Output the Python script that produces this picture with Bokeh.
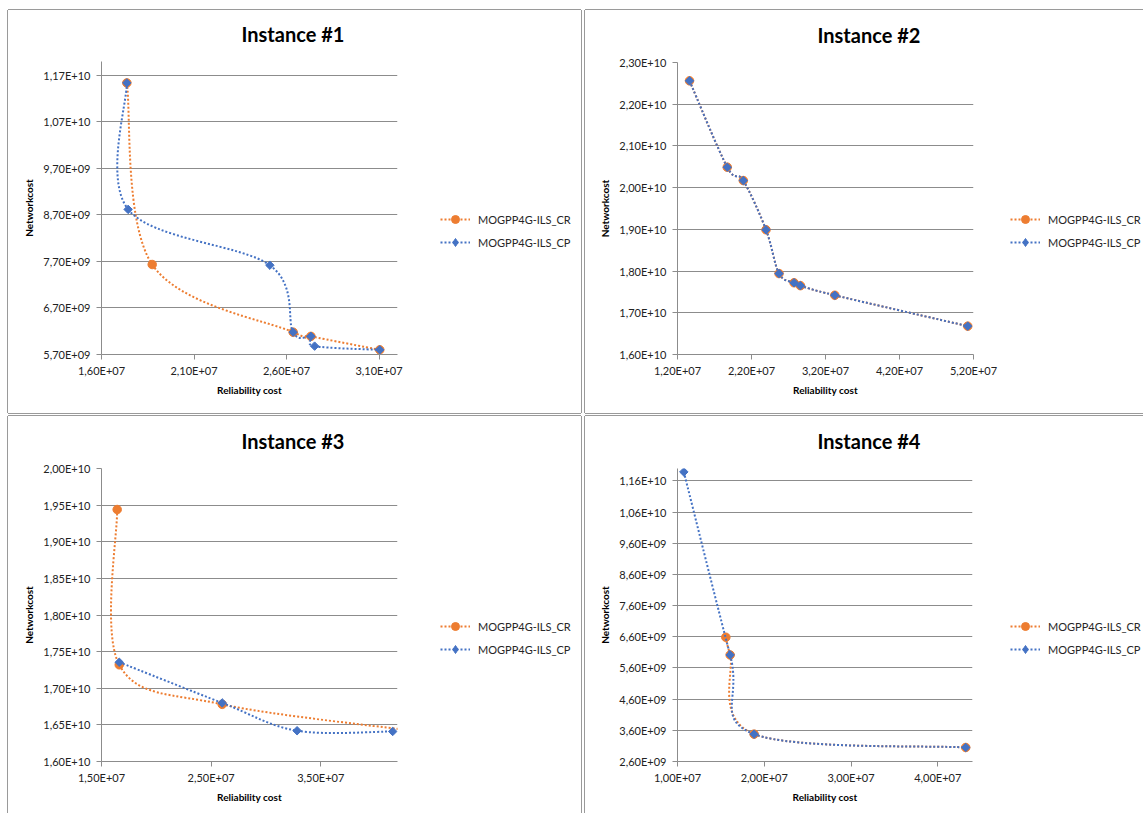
from bokeh.plotting import figure
from bokeh.models import (Range1d, FixedTicker, CustomJSTickFormatter, Legend,
                          LegendItem, Title, ColumnDataSource, Spacer)
from bokeh.layouts import column, row
from bokeh.embed import file_html
from bokeh.resources import INLINE

# ---------------- data ----------------
series_names = ["MOGPP4G-ILS_CR", "MOGPP4G-ILS_CP"]
titles = ["Instance #1", "Instance #2", "Instance #3", "Instance #4"]
x_title = "Reliability cost"
y_title = "Networkcost"

# Instance 1
i1_cr_x = [1.737e7, 1.874e7, 2.636e7, 2.732e7, 3.104e7]
i1_cr_y = [1.154e10, 7.635e9, 6.18e9, 6.09e9, 5.80e9]
i1_cp_x = [1.737e7, 1.744e7, 2.510e7, 2.636e7, 2.732e7, 2.752e7, 3.104e7]
i1_cp_y = [1.154e10, 8.82e9, 7.62e9, 6.18e9, 6.09e9, 5.88e9, 5.80e9]
i1_xticks = [1.6e7, 2.1e7, 2.6e7, 3.1e7]
i1_xlabels = ["1,60E+07", "2,10E+07", "2,60E+07", "3,10E+07"]
i1_yticks = [5.7e9, 6.7e9, 7.7e9, 8.7e9, 9.7e9, 1.07e10, 1.17e10]
i1_ylabels = ["5,70E+09", "6,70E+09", "7,70E+09", "8,70E+09", "9,70E+09", "1,07E+10", "1,17E+10"]
i1_xrange = (1.6e7, 3.2e7)
i1_yrange = (5.7e9, 1.2e10)

# Instance 2
i2_cr_x = [1.3625e7, 1.8725e7, 2.089e7, 2.396e7, 2.572e7, 2.775e7, 2.861e7, 3.326e7, 5.122e7]
i2_cr_y = [2.256e10, 2.049e10, 2.017e10, 1.899e10, 1.794e10, 1.772e10, 1.765e10, 1.742e10, 1.668e10]
i2_cp_x = [1.3625e7, 1.8725e7, 2.089e7, 2.396e7, 2.572e7, 2.775e7, 2.861e7, 3.326e7, 5.122e7]
i2_cp_y = [2.256e10, 2.049e10, 2.017e10, 1.899e10, 1.794e10, 1.772e10, 1.765e10, 1.742e10, 1.668e10]
i2_xticks = [1.2e7, 2.2e7, 3.2e7, 4.2e7, 5.2e7]
i2_xlabels = ["1,20E+07", "2,20E+07", "3,20E+07", "4,20E+07", "5,20E+07"]
i2_yticks = [1.6e10, 1.7e10, 1.8e10, 1.9e10, 2.0e10, 2.1e10, 2.2e10, 2.3e10]
i2_ylabels = ["1,60E+10", "1,70E+10", "1,80E+10", "1,90E+10", "2,00E+10", "2,10E+10", "2,20E+10", "2,30E+10"]
i2_xrange = (1.2e7, 5.2e7)
i2_yrange = (1.6e10, 2.3e10)

# Instance 3
i3_cr_x = [1.643e7, 1.662e7, 2.601e7, 4.45e7]
i3_cr_y = [1.944e10, 1.732e10, 1.678e10, 1.640e10]
i3_cp_x = [1.662e7, 2.601e7, 3.284e7, 4.156e7]
i3_cp_y = [1.7355e10, 1.680e10, 1.642e10, 1.641e10]
i3_xticks = [1.5e7, 2.5e7, 3.5e7]
i3_xlabels = ["1,50E+07", "2,50E+07", "3,50E+07"]
i3_yticks = [1.6e10, 1.65e10, 1.7e10, 1.75e10, 1.8e10, 1.85e10, 1.9e10, 1.95e10, 2.0e10]
i3_ylabels = ["1,60E+10", "1,65E+10", "1,70E+10", "1,75E+10", "1,80E+10", "1,85E+10", "1,90E+10", "1,95E+10", "2,00E+10"]
i3_xrange = (1.5e7, 4.2e7)
i3_yrange = (1.6e10, 2.0e10)

# Instance 4
i4_cr_x = [1.557e7, 1.607e7, 1.883e7, 4.322e7]
i4_cr_y = [6.586e9, 6.018e9, 3.478e9, 3.05e9]
i4_cp_x = [1.073e7, 1.607e7, 1.883e7, 4.322e7]
i4_cp_y = [1.189e10, 6.018e9, 3.478e9, 3.05e9]
i4_xticks = [1.0e7, 2.0e7, 3.0e7, 4.0e7]
i4_xlabels = ["1,00E+07", "2,00E+07", "3,00E+07", "4,00E+07"]
i4_yticks = [2.6e9, 3.6e9, 4.6e9, 5.6e9, 6.6e9, 7.6e9, 8.6e9, 9.6e9, 1.06e10, 1.16e10]
i4_ylabels = ["2,60E+09", "3,60E+09", "4,60E+09", "5,60E+09", "6,60E+09", "7,60E+09",
              "8,60E+09", "9,60E+09", "1,06E+10", "1,16E+10"]
i4_xrange = (1.0e7, 4.4e7)
i4_yrange = (2.6e9, 1.2e10)

# ---------------- style ----------------
ORANGE = "#ED7D31"
BLUE = "#4472C4"
GRID = "#8c8c8c"
BORDER = "#9a9a9a"
FONT = "Lato"

LABEL_JS = """
for (let i = 0; i < tvals.length; i++) {
  if (Math.abs(tvals[i] - tick) <= 1e-9 * Math.abs(tvals[i])) { return tlabels[i]; }
}
return "";
"""


def smooth_source(xs, ys):
    """Cubic Bezier segments through the data points (Excel-like smoothed line)."""
    n = len(xs)
    d = dict(x0=[], y0=[], x1=[], y1=[], cx0=[], cy0=[], cx1=[], cy1=[])
    for i in range(n - 1):
        im = i - 1 if i > 0 else i
        ip = i + 2 if i + 2 < n else i + 1
        d["x0"].append(xs[i]); d["y0"].append(ys[i])
        d["x1"].append(xs[i + 1]); d["y1"].append(ys[i + 1])
        d["cx0"].append(xs[i] + (xs[i + 1] - xs[im]) / 6.0)
        d["cy0"].append(ys[i] + (ys[i + 1] - ys[im]) / 6.0)
        d["cx1"].append(xs[i + 1] - (xs[ip] - xs[i]) / 6.0)
        d["cy1"].append(ys[i + 1] - (ys[ip] - ys[i]) / 6.0)
    return ColumnDataSource(d)


def add_series(p, cr_x, cr_y, cp_x, cp_y, visible=True):
    cr_line = p.bezier(x0="x0", y0="y0", x1="x1", y1="y1", cx0="cx0", cy0="cy0",
                       cx1="cx1", cy1="cy1", source=smooth_source(cr_x, cr_y),
                       line_color=ORANGE, line_width=2, line_dash="2 2", visible=visible)
    cr_pts = p.scatter(cr_x, cr_y, marker="circle", size=8.5, visible=visible,
                       fill_color=ORANGE, line_color=ORANGE, line_width=1)
    cp_line = p.bezier(x0="x0", y0="y0", x1="x1", y1="y1", cx0="cx0", cy0="cy0",
                       cx1="cx1", cy1="cy1", source=smooth_source(cp_x, cp_y),
                       line_color=BLUE, line_width=2, line_dash="2 2", visible=visible)
    if visible:
        cp_pts = p.scatter(cp_x, cp_y, marker="square", angle=0.785398, size=6,
                           fill_color=BLUE, line_color=BLUE, line_width=1)
    else:
        # legend swatch: legends draw markers unrotated, so use a diamond shape
        cp_pts = p.scatter(cp_x, cp_y, marker="diamond", size=10, visible=False,
                           fill_color=BLUE, line_color=BLUE, line_width=1)
    return cr_line, cr_pts, cp_line, cp_pts


def make_panel(title, cr_x, cr_y, cp_x, cp_y, xr, yr, xt, xl, yt, yl,
               width, height, mb, chart_w, legend_xy, shadow):
    p = figure(width=chart_w, height=height, output_backend="svg", toolbar_location=None,
               title=None, x_range=Range1d(*xr), y_range=Range1d(*yr),
               min_border_left=mb[0], min_border_right=chart_w - mb[0] - mb[1],
               min_border_top=mb[2], min_border_bottom=mb[3])
    # blank spacer title (a single space) keeps the real title clear of the plot area
    p.add_layout(Title(text=" ", text_font_size="1px", standoff=13, text_color="white"), "above")
    p.add_layout(Title(text=title, align="left", offset=140, vertical_align="bottom",
                       standoff=0, text_font=FONT, text_font_size="20px",
                       text_font_style="bold", text_color="#000000"), "above")
    p.outline_line_color = None
    p.background_fill_color = "white"
    p.border_fill_color = "white"

    p.xaxis.ticker = FixedTicker(ticks=xt)
    p.yaxis.ticker = FixedTicker(ticks=yt)
    p.xaxis.formatter = CustomJSTickFormatter(args=dict(tvals=xt, tlabels=xl), code=LABEL_JS)
    p.yaxis.formatter = CustomJSTickFormatter(args=dict(tvals=yt, tlabels=yl), code=LABEL_JS)
    p.xaxis.axis_label = x_title
    p.yaxis.axis_label = y_title
    for ax in (p.xaxis[0], p.yaxis[0]):
        ax.axis_line_color = GRID
        ax.major_tick_line_color = GRID
        ax.major_tick_out = 5
        ax.major_tick_in = 0
        ax.minor_tick_line_color = None
        ax.major_label_text_font = FONT
        ax.major_label_text_font_size = "11px"
        ax.major_label_text_color = "#222222"
        ax.axis_label_text_font = FONT
        ax.axis_label_text_font_size = "10px"
        ax.axis_label_text_font_style = "bold"
        ax.axis_label_text_color = "#000000"
    p.xaxis.major_label_standoff = 4
    p.yaxis.major_label_standoff = 6
    p.xaxis.axis_label_standoff = 4
    p.yaxis.axis_label_standoff = 5
    p.xgrid.visible = False
    p.ygrid.grid_line_color = GRID
    p.ygrid.grid_line_width = 1

    add_series(p, cr_x, cr_y, cp_x, cp_y)

    # legend area to the right of the chart
    lg = figure(width=width - chart_w, height=height, output_backend="svg",
                toolbar_location=None, title=None, x_range=Range1d(*xr), y_range=Range1d(*yr),
                x_axis_location=None, y_axis_location=None, min_border=0)
    lg.outline_line_color = None
    lg.xgrid.visible = False
    lg.ygrid.visible = False
    lg.background_fill_color = "white"
    lg.border_fill_color = "white"
    r = add_series(lg, cr_x, cr_y, cp_x, cp_y, visible=False)
    legend = Legend(items=[LegendItem(label=series_names[0], renderers=[r[0], r[1]]),
                           LegendItem(label=series_names[1], renderers=[r[2], r[3]])],
                    location=legend_xy, orientation="vertical",
                    glyph_width=30, glyph_height=20, label_standoff=8, spacing=3,
                    padding=0, margin=0, border_line_color=None, background_fill_alpha=0,
                    inactive_fill_alpha=0,
                    label_text_font=FONT, label_text_font_size="11px",
                    label_text_color="#262626")
    lg.add_layout(legend)
    return row(p, lg, spacing=0, styles={"box-shadow": shadow})


S_L = "-1px 0 0 0 " + BORDER
S_T = "0 -1px 0 0 " + BORDER
S_R = "1px 0 0 0 " + BORDER
S_B = "0 1px 0 0 " + BORDER

pa = make_panel(titles[0], i1_cr_x, i1_cr_y, i1_cp_x, i1_cp_y, i1_xrange, i1_yrange,
                i1_xticks, i1_xlabels, i1_yticks, i1_ylabels,
                573, 403, (93, 296, 51, 59), 420, (12, 102), ", ".join([S_L, S_T, S_R, S_B]))
pb = make_panel(titles[1], i2_cr_x, i2_cr_y, i2_cp_x, i2_cp_y, i2_xrange, i2_yrange,
                i2_xticks, i2_xlabels, i2_yticks, i2_ylabels,
                558, 403, (92, 296, 52, 59), 420, (5, 102), ", ".join([S_L, S_T, S_B]))
pc = make_panel(titles[2], i3_cr_x, i3_cr_y, i3_cp_x, i3_cp_y, i3_xrange, i3_yrange,
                i3_xticks, i3_xlabels, i3_yticks, i3_ylabels,
                573, 397, (93, 296, 52, 52), 420, (12, 102), ", ".join([S_L, S_T, S_R]))
pd_ = make_panel(titles[3], i4_cr_x, i4_cr_y, i4_cp_x, i4_cp_y, i4_xrange, i4_yrange,
                 i4_xticks, i4_xlabels, i4_yticks, i4_ylabels,
                 558, 397, (92, 295, 52, 52), 420, (5, 102), ", ".join([S_L, S_T]))

grid = column(row(pa, pb, spacing=4), row(pc, pd_, spacing=4), spacing=3)
layout = row(Spacer(width=8, height=10),
             column(Spacer(height=10, width=8), grid, spacing=0), spacing=0)

open("out.html", "w").write(file_html(layout, INLINE))
